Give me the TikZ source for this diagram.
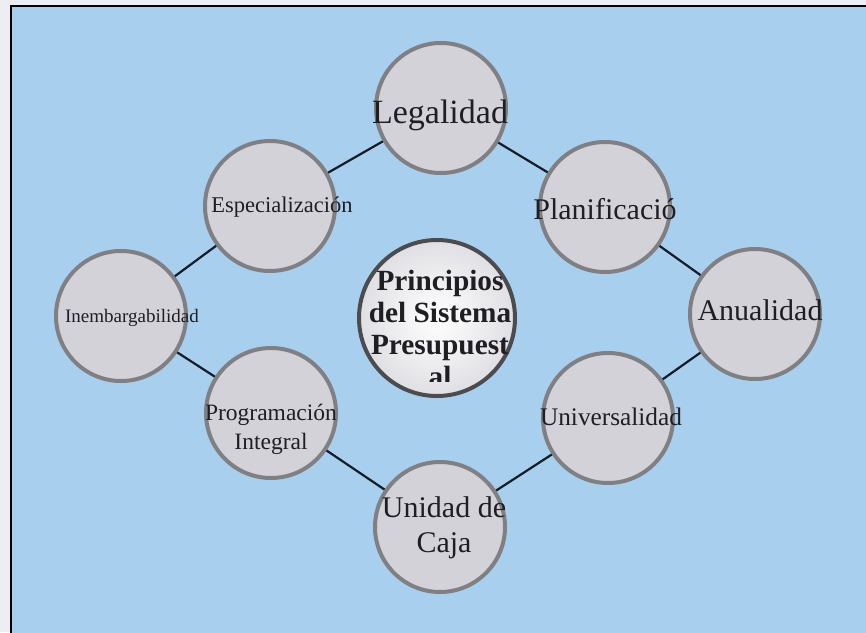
\documentclass[tikz,border=0pt]{standalone}
\usepackage{fontspec}
\setmainfont{Liberation Serif}
\definecolor{bluebg}{RGB}{168,208,238}
\definecolor{outerbg}{RGB}{236,238,244}
\definecolor{circfill}{RGB}{210,210,216}
\definecolor{circedge}{RGB}{128,128,132}
\definecolor{cedge}{RGB}{75,75,80}
\definecolor{txtcol}{RGB}{30,30,35}
\definecolor{linecol}{RGB}{20,28,40}
\begin{document}
\begin{tikzpicture}[x=1pt,y=-1pt,
  pcirc/.style={circle, draw=circedge, fill=circfill, line width=4pt, minimum size=130pt, inner sep=0pt},
  ccirc/.style={circle, draw=cedge, inner color=white, outer color=circfill!70, line width=4pt, minimum size=156pt, inner sep=0pt},
  lbl/.style={text=txtcol, inner sep=0pt, align=center, anchor=base},
  link/.style={draw=linecol, line width=2.2pt}]
\useasboundingbox (0,0) rectangle (866,632);
\fill[outerbg] (0,0) rectangle (866,632);
\fill[bluebg] (11,6) rectangle (880,650);
\draw[black, line width=2.5pt] (11,650) -- (11,6) -- (880,6);
% circles
\node[pcirc] (leg) at (441,108) {};
\node[pcirc] (esp) at (270,206) {};
\node[pcirc] (inem) at (121,316) {};
\node[pcirc] (prog) at (271,413) {};
\node[pcirc] (caja) at (440,527) {};
\node[pcirc] (univ) at (608,418) {};
\node[pcirc] (anual) at (755,314) {};
\node[pcirc] (plan) at (605,207) {};
\node[ccirc] (cen) at (437,318) {};
% links
\draw[link] (leg) -- (plan);
\draw[link] (plan) -- (anual);
\draw[link] (anual) -- (univ);
\draw[link] (univ) -- (caja);
\draw[link] (caja) -- (prog);
\draw[link] (prog) -- (inem);
\draw[link] (inem) -- (esp);
\draw[link] (esp) -- (leg);
% labels
\node[lbl, font=\fontsize{34}{40}\selectfont] (tleg) at (440,123) {Legalidad};
\node[lbl, font=\fontsize{22.5}{27}\selectfont] (tesp) at (282,212) {Especialización};
\node[lbl, font=\fontsize{19}{23}\selectfont] (tinem) at (132,322) {Inembargabilidad};
\node[lbl, font=\fontsize{30}{36}\selectfont] (tplan) at (605,219) {Planificació};
\node[lbl, font=\fontsize{30}{36}\selectfont] (tanual) at (760,320) {Anualidad};
\node[lbl, font=\fontsize{25.3}{30}\selectfont] (tuniv) at (611,425) {Universalidad};
\node[lbl, font=\fontsize{30}{35}\selectfont] (tcaja) at (444,552) {Unidad de\\Caja};
\node[lbl, font=\fontsize{23.5}{29}\selectfont] (tprog) at (271,449) {Programación\\Integral};
\begin{scope}
\clip (350,236) rectangle (525,381);
\node[lbl, font=\fontsize{29.3}{32}\selectfont\bfseries] (tcen) at (440,386) {Principios\\del Sistema\\Presupuest\\al};
\end{scope}
\end{tikzpicture}
\end{document}
